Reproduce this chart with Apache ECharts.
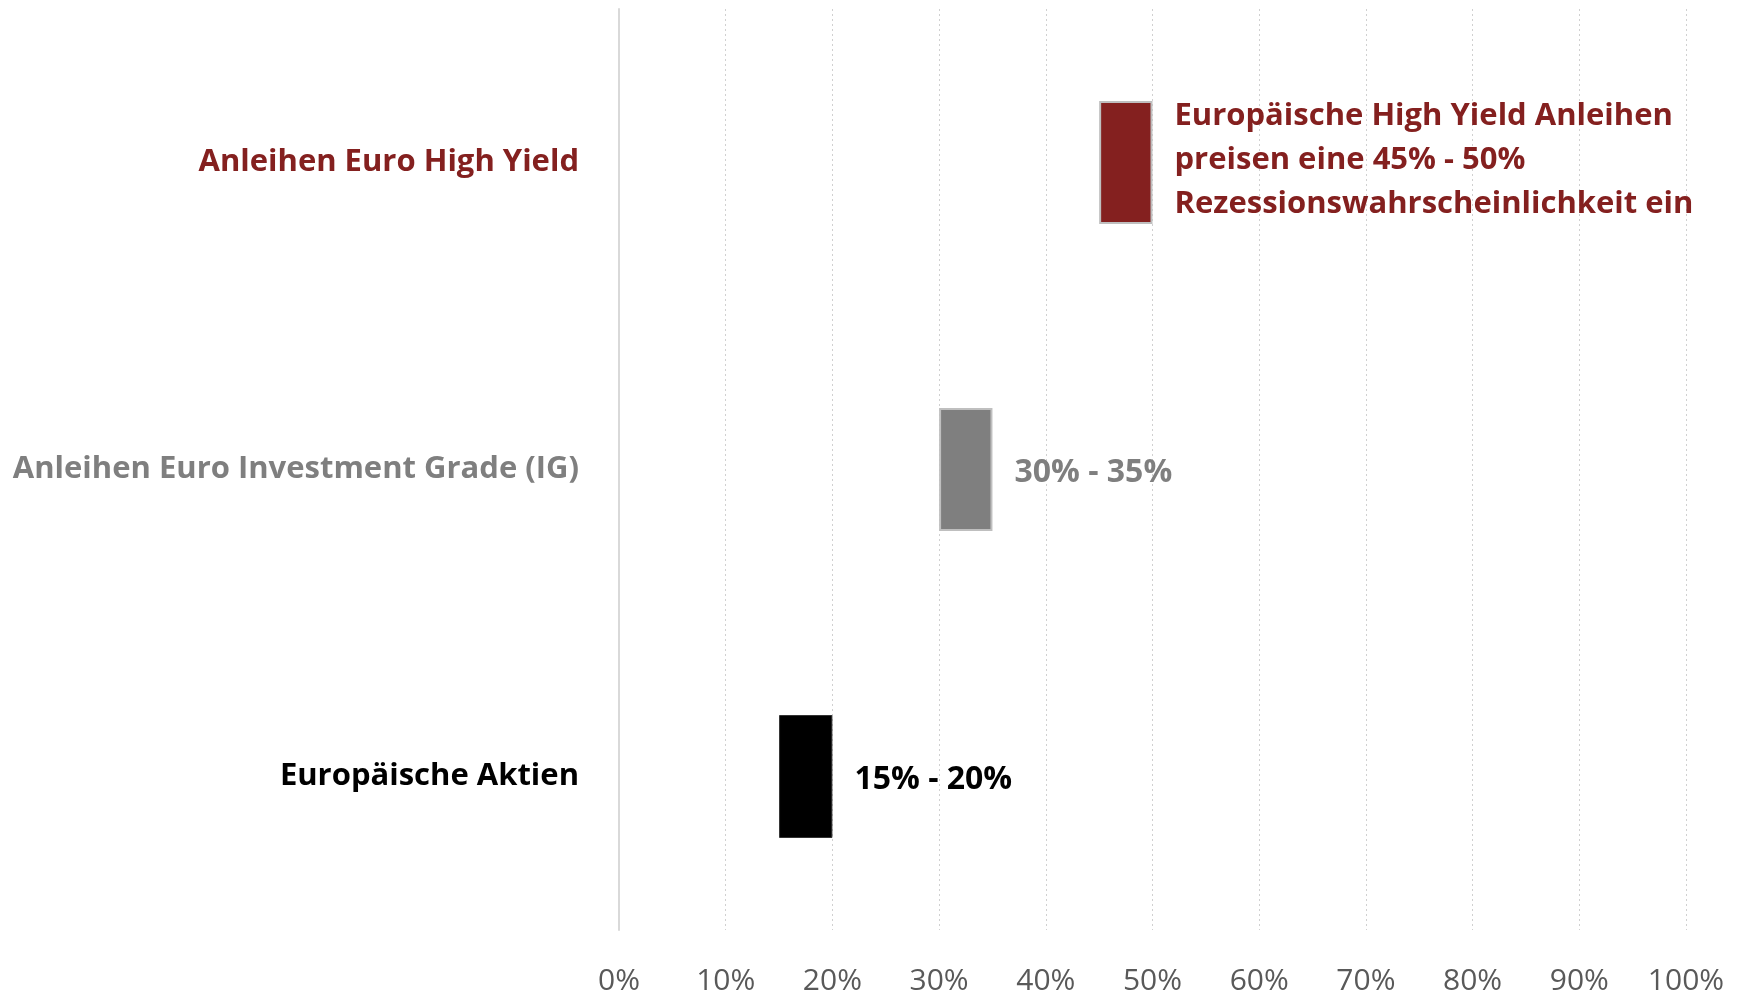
<!DOCTYPE html>
<html>
<head>
<meta charset="utf-8">
<script src="https://cdn.jsdelivr.net/npm/echarts@6/dist/echarts.min.js"></script>
<style>
  html, body { margin: 0; padding: 0; background: #fff; }
  #chart { width: 1746px; height: 996px; }
</style>
</head>
<body>
<div id="chart"></div>
<script>
// Kategorien von unten nach oben
var categories = ['Europäische Aktien', 'Anleihen Euro Investment Grade (IG)', 'Anleihen Euro High Yield'];
var rangeLow = [15, 30, 45];
var rangeHigh = [20, 35, 50];
var rangeLabels = [
    '15% - 20%',
    '30% - 35%',
    'Europäische High Yield Anleihen\npreisen eine 45% - 50%\nRezessionswahrscheinlichkeit ein'
];
var colors = ['#000000', '#7f7f7f', '#84201f'];
var xTicks = [0, 10, 20, 30, 40, 50, 60, 70, 80, 90, 100];

var chart = echarts.init(document.getElementById('chart'));

var rangeData = categories.map(function (c, i) {
    return {
        value: rangeHigh[i] - rangeLow[i],
        itemStyle: {
            color: colors[i],
            borderColor: i === 0 ? '#333' : '#bfbfbf',
            borderWidth: i === 0 ? 1 : 2
        },
        label: {
            color: colors[i],
            fontSize: i === 2 ? 31 : 32,
            offset: i === 2 ? [0, -2] : [0, 3]
        }
    };
});

chart.setOption({
    animation: false,
    grid: { left: 619, right: 60, top: 9, bottom: 66 },
    xAxis: {
        type: 'value',
        min: xTicks[0],
        max: xTicks[xTicks.length - 1],
        interval: 10,
        axisLine: { show: false },
        axisTick: { show: false },
        splitLine: { show: true, lineStyle: { color: '#d0d0d0', type: [2, 3], width: 1 } },
        axisLabel: {
            formatter: '{value}%',
            color: '#595959',
            fontFamily: 'Open Sans',
            fontSize: 30,
            margin: 36
        }
    },
    yAxis: {
        type: 'category',
        data: categories,
        axisLine: { show: true, lineStyle: { color: '#d9d9d9', width: 2 } },
        axisTick: { show: false },
        axisLabel: {
            margin: 40,
            fontFamily: 'Open Sans',
            fontWeight: 'bold',
            fontSize: 31,
            color: function (value, index) { return colors[index]; }
        }
    },
    series: [
        {
            type: 'bar',
            stack: 'r',
            data: rangeLow,
            barWidth: 123,
            itemStyle: { color: 'transparent' },
            silent: true
        },
        {
            type: 'bar',
            stack: 'r',
            data: rangeData,
            barWidth: 123,
            label: {
                show: true,
                position: 'right',
                distance: 22,
                fontFamily: 'Open Sans',
                fontWeight: 'bold',
                lineHeight: 44,
                formatter: function (p) { return rangeLabels[p.dataIndex]; }
            }
        }
    ]
});
</script>
</body>
</html>
